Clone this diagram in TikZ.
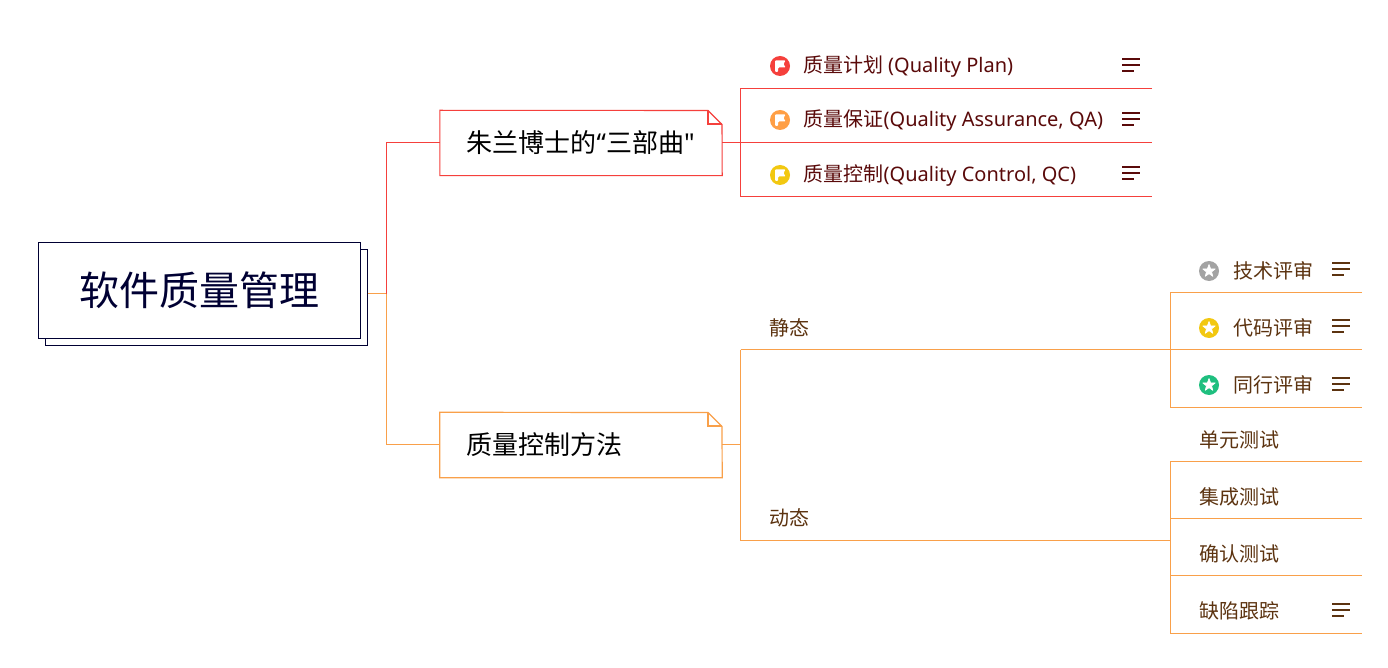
\documentclass[tikz,border=0pt]{standalone}
\usepackage{fontspec}
\setmainfont{Noto Sans CJK SC}
\newfontfamily\latinpart{Noto Sans}
\newcommand{\lat}[1]{{\latinpart #1}}
\definecolor{cred}{HTML}{F5403C}
\definecolor{corange}{HTML}{F9A04A}
\definecolor{cnavy}{HTML}{000033}
\definecolor{tred}{HTML}{5A0A0A}
\definecolor{tbrown}{HTML}{5C3310}
\definecolor{iorange}{HTML}{FF9F45}
\definecolor{iyellow}{HTML}{F2C811}
\definecolor{igray}{HTML}{A3A3A3}
\definecolor{igreen}{HTML}{1FBF7F}
\tikzset{
  redline/.style={draw=cred,line width=1pt},
  orgline/.style={draw=corange,line width=1pt},
  notered/.style={draw=cred,line width=1.1pt},
  noteorg/.style={draw=corange,line width=1.2pt},
  rootbox/.style={draw=cnavy,line width=1pt,fill=white,minimum width=322pt,minimum height=96pt,inner sep=0pt,text=cnavy,font=\fontsize{40pt}{44pt}\selectfont},
  shadowbox/.style={draw=cnavy,line width=1pt,fill=white,minimum width=322pt,minimum height=96pt,inner sep=0pt},
  majorbox/.style={minimum width=282pt,minimum height=65pt,inner sep=0pt,text=black,font=\fontsize{26pt}{30pt}\selectfont},
  majortext/.style={anchor=west,inner sep=0pt,text=black,font=\fontsize{26pt}{30pt}\selectfont},
  redleaf/.style={anchor=base west,inner sep=0pt,text=tred,font=\fontsize{20pt}{24pt}\selectfont},
  orgleaf/.style={anchor=base west,inner sep=0pt,text=tbrown,font=\fontsize{20pt}{24pt}\selectfont},
  flagicon/.pic={
    \fill[pic actions] (0,0) circle (10pt);
    \fill[white,rounded corners=.8pt] (-5,-5.5) -- (5.5,-5.5) -- (3.6,-2.2) -- (5.5,1.5) -- (-1.8,1.5) -- (-1.8,5.8) -- (-5,5.8) -- cycle;
  },
  staricon/.pic={
    \fill[pic actions] (0,0) circle (10pt);
    \fill[white,line join=round,draw=white,line width=.6pt]
      (0,-6.5) -- (1.6,-2.2) -- (6.2,-2) -- (2.6,.85) -- (3.8,5.3) -- (0,2.7) -- (-3.8,5.3) -- (-2.6,.85) -- (-6.2,-2) -- (-1.6,-2.2) -- cycle;
  },
  menuicon/.pic={
    \draw[pic actions,line width=1.8pt] (0,-6) -- (18,-6) (0,0) -- (18,0) (0,6) -- (11.5,6);
  }
}
\begin{document}
\begin{tikzpicture}[x=1pt,y=-1pt]
\useasboundingbox[fill=white] (0,0) rectangle (1388,668);
\begin{scope}[shift={(0.5,0.5)}]

% root
\node[shadowbox] (rootshadow) at (206,297) {};
\node[rootbox] (root) at (199,290) {软件质量管理};

% major topics
\node[majorbox] (plan) at (580.5,142.5) {};
\node[majorbox] (method) at (580.5,444.5) {};
\node[majortext] (plantext) at (466,142.5) {朱兰博士的\lat{“}三部曲\lat{"}};
\node[majortext] (methodtext) at (466,444.5) {质量控制方法};

% junctions
\coordinate (rootj) at (386,293);
\coordinate (redj) at (740,142);
\coordinate (orgj) at (740,444);
\coordinate (jstatic) at (740,349);
\coordinate (jdyn) at (740,540);
\coordinate (r1a) at (740,88);   \coordinate (r1b) at (1151.5,88);
\coordinate (r2b) at (1151.5,142);
\coordinate (r3a) at (740,196);  \coordinate (r3b) at (1151.5,196);
\coordinate (s0) at (1170,349);
\coordinate (sa) at (1170,292);  \coordinate (sab) at (1361.5,292);
\coordinate (sbb) at (1361.5,349);
\coordinate (sc) at (1170,407);  \coordinate (scb) at (1361.5,407);
\coordinate (d0) at (1170,540);
\coordinate (da) at (1170,461);  \coordinate (dab) at (1361.5,461);
\coordinate (db) at (1170,518);  \coordinate (dbb) at (1361.5,518);
\coordinate (dc) at (1170,575);  \coordinate (dcb) at (1361.5,575);
\coordinate (dd) at (1170,633);  \coordinate (ddb) at (1361.5,633);

% note outlines
\draw[notered] (plan.north west) -- (707.5,110) -- (721.5,124) -- (plan.south east) -- (plan.south west) -- cycle;
\draw[notered] (707.5,110) -- (707.5,123.5) -- (721.5,123.5);
\draw[noteorg] (method.north west) -- (707.5,412) -- (721.5,426) -- (method.south east) -- (method.south west) -- cycle;
\draw[noteorg] (707.5,412) -- (707.5,425.5) -- (721.5,425.5);

% connectors
\draw[orgline] (rootshadow.east |- rootj) -- (rootj);
\draw[redline] (rootj) |- (plan.west |- redj);
\draw[orgline] (rootj) |- (method.west |- orgj);
\draw[redline] (plan.east |- redj) -- (r2b);
\draw[redline] (r1b) -- (r1a) -- (r3a) -- (r3b);
\draw[orgline] (method.east |- orgj) -- (orgj);
\draw[orgline] (jstatic) -- (jdyn);
\draw[orgline] (jstatic) -- (s0) -- (sbb);
\draw[orgline] (jdyn) -- (d0);
\draw[orgline] (sab) -- (sa) -- (sc) -- (scb);
\draw[orgline] (dab) -- (da) -- (dd) -- (ddb);
\draw[orgline] (db) -- (dbb);
\draw[orgline] (dc) -- (dcb);

% red leaves
\pic[color=cred] at (779.5,65.5) {flagicon};
\pic[color=iorange] at (779.5,119.5) {flagicon};
\pic[color=iyellow] at (779.5,174.5) {flagicon};
\node[redleaf] (l1) at (803,72.5) {质量计划 \lat{(Quality Plan)}};
\node[redleaf] (l2) at (803,126.5) {质量保证\lat{(Quality Assurance, QA)}};
\node[redleaf] (l3) at (803,181.5) {质量控制\lat{(Quality Control, QC)}};
\pic[color=tred] at (1121.5,64.5) {menuicon};
\pic[color=tred] at (1121.5,118.5) {menuicon};
\pic[color=tred] at (1121.5,172.5) {menuicon};

% static / dynamic
\node[orgleaf] (static) at (769,334.5) {静态};
\node[orgleaf] (dynamic) at (769,524.5) {动态};

% static children
\pic[color=igray] at (1208.5,270.5) {staricon};
\pic[color=iyellow] at (1208.5,327.5) {staricon};
\pic[color=igreen] at (1208.5,384.5) {staricon};
\node[orgleaf] (s1) at (1233,277.5) {技术评审};
\node[orgleaf] (s2) at (1233,334.5) {代码评审};
\node[orgleaf] (s3) at (1233,391.5) {同行评审};
\pic[color=tbrown] at (1331.5,268.5) {menuicon};
\pic[color=tbrown] at (1331.5,325.5) {menuicon};
\pic[color=tbrown] at (1331.5,383.5) {menuicon};

% dynamic children
\node[orgleaf] (d1) at (1199,446.5) {单元测试};
\node[orgleaf] (d2) at (1199,503.5) {集成测试};
\node[orgleaf] (d3) at (1199,560.5) {确认测试};
\node[orgleaf] (d4) at (1199,617.5) {缺陷跟踪};
\pic[color=tbrown] at (1331.5,609.5) {menuicon};
\end{scope}
\end{tikzpicture}
\end{document}
